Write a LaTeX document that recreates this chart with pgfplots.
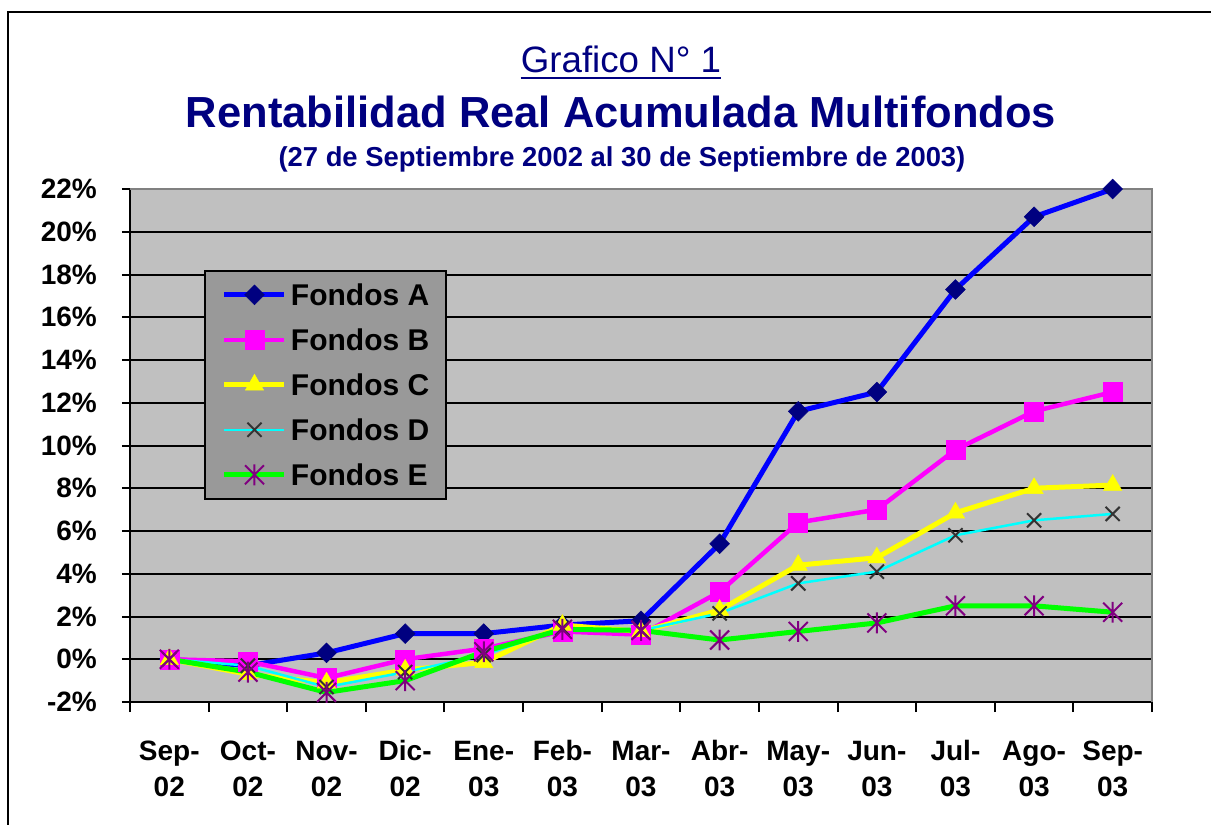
\documentclass[border=0pt]{standalone}
\usepackage{fontspec}
\setmainfont{Liberation Sans}
\usepackage{pgfplots}
\pgfplotsset{compat=1.18}
\definecolor{navyT}{HTML}{000080}
\definecolor{plotbg}{HTML}{C0C0C0}
\definecolor{legbg}{HTML}{999999}
\definecolor{dgray}{HTML}{333333}
\definecolor{purp}{HTML}{800080}
\definecolor{bordergray}{HTML}{808080}
\definecolor{lblue}{HTML}{0000FF}
\definecolor{lmag}{HTML}{FF00FF}
\definecolor{lyel}{HTML}{FFFF00}
\definecolor{lcyan}{HTML}{00FFFF}
\definecolor{lgreen}{HTML}{00FF00}
\pgfdeclareplotmark{xstar}{%
  \pgfpathmoveto{\pgfqpoint{-\pgfplotmarksize}{-\pgfplotmarksize}}%
  \pgfpathlineto{\pgfqpoint{\pgfplotmarksize}{\pgfplotmarksize}}%
  \pgfpathmoveto{\pgfqpoint{-\pgfplotmarksize}{\pgfplotmarksize}}%
  \pgfpathlineto{\pgfqpoint{\pgfplotmarksize}{-\pgfplotmarksize}}%
  \pgfpathmoveto{\pgfqpoint{0pt}{-1.1\pgfplotmarksize}}%
  \pgfpathlineto{\pgfqpoint{0pt}{1.1\pgfplotmarksize}}%
  \pgfusepathqstroke}
\begin{document}
\begin{tikzpicture}
\useasboundingbox (0,0) rectangle (1211pt,-825pt);
\draw[line width=2.5pt] (8pt,-830pt) -- (8pt,-12pt) -- (1215pt,-12pt);
\node[anchor=base, inner sep=0pt, text=navyT] (g) at (621pt,-72pt) {\fontsize{36.7}{40}\selectfont Grafico N° 1};
\draw[navyT, line width=2.5pt] ([yshift=-6pt]g.base west) -- ([yshift=-6pt]g.base east);
\node[anchor=base, inner sep=0pt, text=navyT] at (621pt,-127pt) {\fontsize{43.5}{48}\selectfont\bfseries Rentabilidad Real Acumulada Multifondos};
\node[anchor=base, inner sep=0pt, text=navyT] at (622pt,-166pt) {\fontsize{27.4}{30}\selectfont\bfseries (27 de Septiembre 2002 al 30 de Septiembre de 2003)};
\begin{axis}[
  at={(130pt,-702pt)}, anchor=south west,
  scale only axis, width=1022pt, height=513pt,
  xmin=-0.5, xmax=12.5, ymin=-2, ymax=22,
  clip=false,
  axis background/.style={fill=plotbg},
  axis line style={black, line width=2pt},
  xtick={0,...,12},
  xticklabels={{Sep-\\02},{Oct-\\02},{Nov-\\02},{Dic-\\02},{Ene-\\03},{Feb-\\03},{Mar-\\03},{Abr-\\03},{May-\\03},{Jun-\\03},{Jul-\\03},{Ago-\\03},{Sep-\\03}},
  minor xtick={-0.5,0.5,...,12.5},
  every major x tick/.append style={draw=none},
  ytick={-2,0,...,22},
  yticklabels={-2\%,0\%,2\%,4\%,6\%,8\%,10\%,12\%,14\%,16\%,18\%,20\%,22\%},
  xtick pos=bottom, ytick pos=left,
  tick align=outside,
  major tick length=8pt, minor tick length=10pt,
  tick style={black, line width=2pt},
  ymajorgrids, major grid style={black, line width=2pt},
  xticklabel style={font=\fontsize{28}{36}\selectfont\bfseries, align=center, anchor=north, inner sep=0pt, text height=20.5pt, yshift=-65.5pt},
  yticklabel style={font=\fontsize{28}{32}\selectfont\bfseries, anchor=east, inner sep=0pt, xshift=-25pt},
  legend cell align=left,
  legend image code/.code={\draw[mark repeat=2,mark phase=2,#1] plot coordinates {(0pt,0pt) (30pt,0pt) (60pt,0pt)};},
  legend style={at={(0.0724,0.842)}, anchor=north west, fill=legbg, draw=black, line width=2pt,
    inner xsep=17pt, inner ysep=13pt, row sep=23.5pt,
    font=\fontsize{30}{36}\selectfont\bfseries,
    nodes={inner sep=0pt, text height=21.5pt, text depth=0pt, anchor=west},
    /tikz/every odd column/.append style={column sep=4pt}},
]
\draw[bordergray, line width=2pt] (rel axis cs:0,1) -- (rel axis cs:1,1) -- (rel axis cs:1,0);
\addplot[color=lblue, line width=5pt, mark=square*, mark size=7pt, mark options={rotate=45, fill=navyT, draw=navyT, line width=0.5pt}]
  coordinates {(0,0) (1,-0.3) (2,0.3) (3,1.2) (4,1.2) (5,1.6) (6,1.8) (7,5.4) (8,11.6) (9,12.5) (10,17.3) (11,20.7) (12,22.0)};
\addlegendentry{Fondos A}
\addplot[color=lmag, line width=4.5pt, mark=square*, mark size=9.5pt, mark options={fill=lmag, draw=lmag, line width=0.5pt}]
  coordinates {(0,0) (1,-0.1) (2,-0.88) (3,0.0) (4,0.5) (5,1.3) (6,1.15) (7,3.15) (8,6.4) (9,7.0) (10,9.8) (11,11.6) (12,12.5)};
\addlegendentry{Fondos B}
\addplot[color=lyel, line width=5pt, mark=triangle*, mark size=10.5pt, mark options={fill=lyel, draw=lyel, line width=0.5pt}]
  coordinates {(0,0) (1,-0.7) (2,-1.1) (3,-0.5) (4,-0.15) (5,1.6) (6,1.3) (7,2.3) (8,4.4) (9,4.75) (10,6.85) (11,8.0) (12,8.15)};
\addlegendentry{Fondos C}
\addplot[color=lcyan, line width=2.5pt, mark=x, mark size=10pt, mark options={draw=dgray, line width=2pt}]
  coordinates {(0,0) (1,-0.3) (2,-1.3) (3,-0.6) (4,0.2) (5,1.45) (6,1.35) (7,2.15) (8,3.55) (9,4.1) (10,5.8) (11,6.5) (12,6.8)};
\addlegendentry{Fondos D}
\addplot[color=lgreen, line width=5pt, mark=xstar, mark size=9.5pt, mark options={draw=purp, line width=2pt}]
  coordinates {(0,0) (1,-0.6) (2,-1.55) (3,-1.0) (4,0.35) (5,1.4) (6,1.35) (7,0.9) (8,1.3) (9,1.7) (10,2.5) (11,2.5) (12,2.2)};
\addlegendentry{Fondos E}
\end{axis}
\end{tikzpicture}
\end{document}
